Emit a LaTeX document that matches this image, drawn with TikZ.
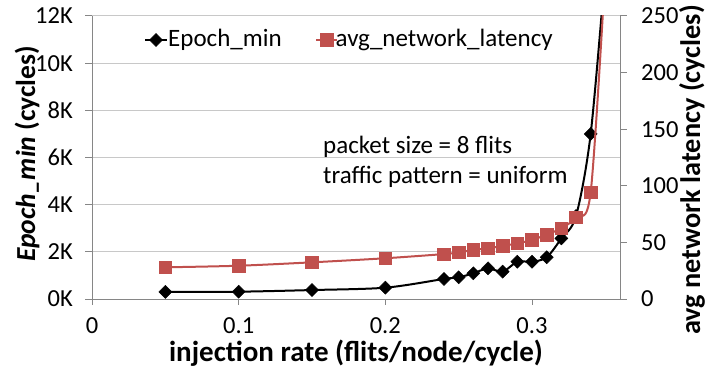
\documentclass[tikz,border=0pt]{standalone}
\usepackage{fontspec}
\setmainfont{Carlito}
\usetikzlibrary{plotmarks}
\definecolor{excelred}{HTML}{C0504D}
\definecolor{gridgray}{HTML}{C8C8C8}
\definecolor{axisgray}{HTML}{868686}
\begin{document}
\begin{tikzpicture}[x=1pt,y=1pt,
  ticklab/.style={font=\fontsize{24.5}{28}\selectfont, inner sep=0pt},
  txtlab/.style={font=\fontsize{25}{29}\selectfont, inner sep=0pt},
  axtitle/.style={font=\fontsize{29}{33}\selectfont\bfseries, inner sep=0pt},
  gridline/.style={gridgray, line width=1pt},
  axisline/.style={axisgray, line width=1pt},
  blackser/.style={black, line width=2pt},
  redser/.style={excelred, line width=2pt},
  dmark/.style={mark=diamond*, mark size=6.5pt, mark options={xscale=1.33, solid, fill=black, draw=black, line width=0.5pt}},
  smark/.style={mark=square*, mark size=6.3pt, mark options={solid, fill=excelred, draw=excelred, line width=0.5pt}}
]
\useasboundingbox (0,0) rectangle (706,373);
% plot area: x 92..620, y 74..357
\foreach \yy in {121.17,168.33,215.5,262.67,309.83,357} \draw[gridline] (92,\yy) -- (620,\yy);
% axes
\draw[axisline] (92,74) -- (92,357);
\draw[axisline] (620,74) -- (620,357);
\draw[axisline] (92,74) -- (620,74);
\foreach \yy/\lab in {74/0K,121.17/2K,168.33/4K,215.5/6K,262.67/8K,309.83/10K,357/12K} {
  \draw[axisline] (85,\yy) -- (92,\yy);
  \node[ticklab, anchor=east] at (73,\yy) {\lab};
}
\foreach \yy/\lab in {74/0,130.6/50,187.2/100,243.8/150,300.4/200,357/250} {
  \draw[axisline] (620,\yy) -- (627,\yy);
  \node[ticklab, anchor=west] at (641,\yy) {\lab};
}
\foreach \xx/\lab in {92/0,238.67/0.1,385.33/0.2,532/0.3} {
  \draw[axisline] (\xx,74) -- (\xx,68);
  \node[ticklab] at (\xx,47) {\lab};
}
\node[axtitle] (xt) at (356,20) {injection rate (flits/node/cycle)};
\node[axtitle, font=\fontsize{27.5}{31}\selectfont\bfseries, rotate=90] (ylt) at (27,219) {\textit{Epoch\_min} (cycles)};
\node[axtitle, font=\fontsize{28.3}{32}\selectfont\bfseries, rotate=90] (yrt) at (692,203) {avg network latency (cycles)};
% series
\begin{scope}
\clip (92,60) rectangle (620,357);
\begin{scope}[shift={(92pt,74pt)}, x=1466.7pt, y=23.583pt]
\draw[blackser] plot[smooth, tension=0.5] coordinates {(0.05,0.30) (0.1,0.31) (0.15,0.38) (0.2,0.48) (0.24,0.85) (0.25,0.92) (0.26,1.09) (0.27,1.30) (0.28,1.16) (0.29,1.58) (0.30,1.58) (0.31,1.77) (0.32,2.57) (0.33,3.52) (0.34,7.0) (0.35,14.0)};
\draw[blackser, draw=none, dmark] plot coordinates {(0.05,0.30) (0.1,0.31) (0.15,0.38) (0.2,0.48) (0.24,0.85) (0.25,0.92) (0.26,1.09) (0.27,1.30) (0.28,1.16) (0.29,1.58) (0.30,1.58) (0.31,1.77) (0.32,2.57) (0.33,3.52) (0.34,7.0)};
\end{scope}
\begin{scope}[shift={(92pt,74pt)}, x=1466.7pt, y=1.132pt]
\draw[redser] plot[smooth, tension=0.5] coordinates {(0.05,28) (0.1,29.4) (0.15,32.4) (0.2,36) (0.24,39.7) (0.25,41.2) (0.26,43.3) (0.27,44.8) (0.28,46.8) (0.29,49.2) (0.30,52.1) (0.31,57) (0.32,62.4) (0.33,72.2) (0.34,94.3) (0.35,290)};
\draw[redser, draw=none, smark] plot coordinates {(0.05,28) (0.1,29.4) (0.15,32.4) (0.2,36) (0.24,39.7) (0.25,41.2) (0.26,43.3) (0.27,44.8) (0.28,46.8) (0.29,49.2) (0.30,52.1) (0.31,57) (0.32,62.4) (0.33,72.2) (0.34,94.3)};
\end{scope}
\end{scope}
% legend
\draw[blackser] (145,333) -- (167,333);
\draw[draw=none, dmark] plot coordinates {(156,333)};
\node[txtlab, anchor=west] (l1) at (168,333) {Epoch\_min};
\draw[redser] (316,333) -- (337,333);
\draw[draw=none, smark] plot coordinates {(327,333)};
\node[txtlab, anchor=west] (l2) at (335.5,333) {avg\_network\_latency};
% annotation
\node[txtlab, anchor=west] (a1) at (323,226) {packet size = 8 flits};
\node[txtlab, anchor=west] (a2) at (323,196) {traffic pattern = uniform};
\end{tikzpicture}
\end{document}
